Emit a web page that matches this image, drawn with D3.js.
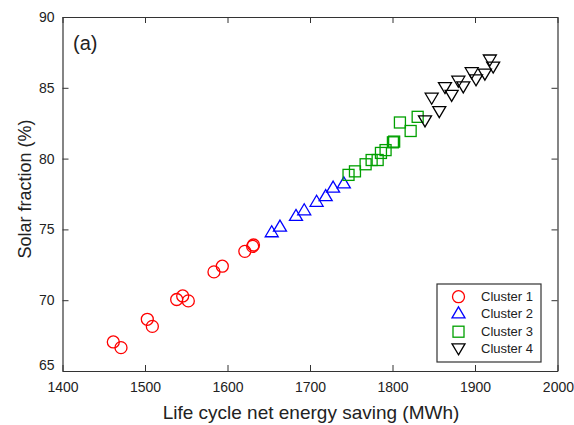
<!DOCTYPE html>
<html><head><meta charset="utf-8">
<script src="https://cdn.jsdelivr.net/npm/d3@7"></script>
<style>body{margin:0;background:#fff}svg{display:block;font-family:"Liberation Sans",Arial,sans-serif}</style>
</head><body><svg id="c" width="574" height="425"></svg>
<script>
const xTicks = [1400,1500,1600,1700,1800,1900,2000];
const yTicks = [65,70,75,80,85,90];
const cluster1 = [[1461.6,67.05],[1470.9,66.65],[1502.8,68.65],[1508.9,68.15],[1538.4,70.05],[1545.7,70.3],[1552.5,69.95],[1583.6,72.0],[1593.7,72.4],[1621,73.45],[1630.5,73.8],[1631.5,73.9]];
const cluster2 = [[1653.6,74.8],[1663.6,75.2],[1683,75.95],[1693,76.35],[1708,76.95],[1719,77.35],[1728,77.95],[1741,78.25]];
const cluster3 = [[1746.7,78.85],[1754.5,79.1],[1767.4,79.6],[1774.7,79.9],[1782,79.9],[1786,80.4],[1791.6,80.6],[1800.5,81.15],[1802,81.2],[1809,82.55],[1822,81.95],[1830.5,82.95]];
const cluster4 = [[1839.4,82.7],[1847.5,84.3],[1856.7,83.35],[1863.6,85.05],[1871.7,84.5],[1879.8,85.5],[1885.8,85.1],[1896,86.1],[1901.2,85.6],[1912,86.0],[1918,87.0],[1922,86.5]];
const seriesNames = ["Cluster 1","Cluster 2","Cluster 3","Cluster 4"];

const svg = d3.select("#c");
const L=62.5,R=557.5,T=17,B=371;
const x = d3.scaleLinear().domain([1400,2000]).range([L,R]);
const y = d3.scaleLinear().domain([65,90]).range([B,T]);
const axisColor="#333";

const series = [
 {name:seriesNames[0],data:cluster1,color:"#ff0000",type:"circle"},
 {name:seriesNames[1],data:cluster2,color:"#0000ff",type:"tri"},
 {name:seriesNames[2],data:cluster3,color:"#00a000",type:"square"},
 {name:seriesNames[3],data:cluster4,color:"#000000",type:"tridown"}
];
function marker(g,type,color){
  if(type==="circle") g.append("circle").attr("r",6);
  else if(type==="square") g.append("rect").attr("x",-5.5).attr("y",-5.5).attr("width",11).attr("height",11);
  else if(type==="tri") g.append("path").attr("d","M0,-6.5L6.5,4.5L-6.5,4.5Z");
  else g.append("path").attr("d","M0,6.5L6.5,-4.5L-6.5,-4.5Z");
  g.selectAll("*").attr("fill","none").attr("stroke",color).attr("stroke-width",1.3);
}
series.forEach(s=>{
  s.data.forEach(d=>{
    const g=svg.append("g").attr("transform",`translate(${x(d[0])},${y(d[1])})`);
    marker(g,s.type,s.color);
  });
});

// axes
const fs=14;
const fmt=d3.format("d");
const bx=svg.append("g").attr("transform",`translate(0,${B})`).call(d3.axisBottom(x).tickValues(xTicks).tickSizeInner(-6).tickSizeOuter(0).tickPadding(8).tickFormat(fmt));
const tx=svg.append("g").attr("transform",`translate(0,${T})`).call(d3.axisTop(x).tickValues(xTicks).tickSizeInner(-6).tickSizeOuter(0).tickFormat(""));
const ly=svg.append("g").attr("transform",`translate(${L},0)`).call(d3.axisLeft(y).tickValues(yTicks).tickSizeInner(-6).tickSizeOuter(0).tickPadding(8).tickFormat(fmt));
const ry=svg.append("g").attr("transform",`translate(${R},0)`).call(d3.axisRight(y).tickValues(yTicks).tickSizeInner(-6).tickSizeOuter(0).tickFormat(""));
[bx,tx,ly,ry].forEach(a=>{
  a.selectAll("path.domain").attr("stroke",axisColor).attr("stroke-width",1.2);
  a.selectAll(".tick line").attr("stroke",axisColor);
  a.selectAll("text").attr("font-family","Liberation Sans, Arial, sans-serif").attr("font-size",fs).attr("fill","#222");
});
bx.selectAll("text").attr("dy","0.9em");
bx.selectAll(".tick text").filter(d=>d===2000).attr("text-anchor","end").attr("dx","16");
ly.selectAll(".tick text").filter(d=>d===65).attr("dy","-0.1em");

svg.append("text").attr("x",311).attr("y",419).attr("text-anchor","middle").attr("font-size",19).attr("fill","#222").text("Life cycle net energy saving (MWh)");
svg.append("text").attr("transform","translate(31,189) rotate(-90)").attr("text-anchor","middle").attr("font-size",18).attr("fill","#222").text("Solar fraction (%)");
svg.append("text").attr("x",73).attr("y",50).attr("font-size",20).attr("fill","#222").text("(a)");

// legend
const lg=svg.append("g");
lg.append("rect").attr("x",437).attr("y",284).attr("width",104).attr("height",78).attr("fill","#fff").attr("stroke",axisColor).attr("stroke-width",1.2);
const ly0=[296.7,313.3,331.7,348.3];
series.forEach((s,i)=>{
  const g=lg.append("g").attr("transform",`translate(458.5,${ly0[i]})`);
  marker(g,s.type,s.color);
  lg.append("text").attr("x",481).attr("y",ly0[i]).attr("dy","0.36em").attr("font-size",13).attr("fill","#222").text(s.name);
});
</script></body></html>
